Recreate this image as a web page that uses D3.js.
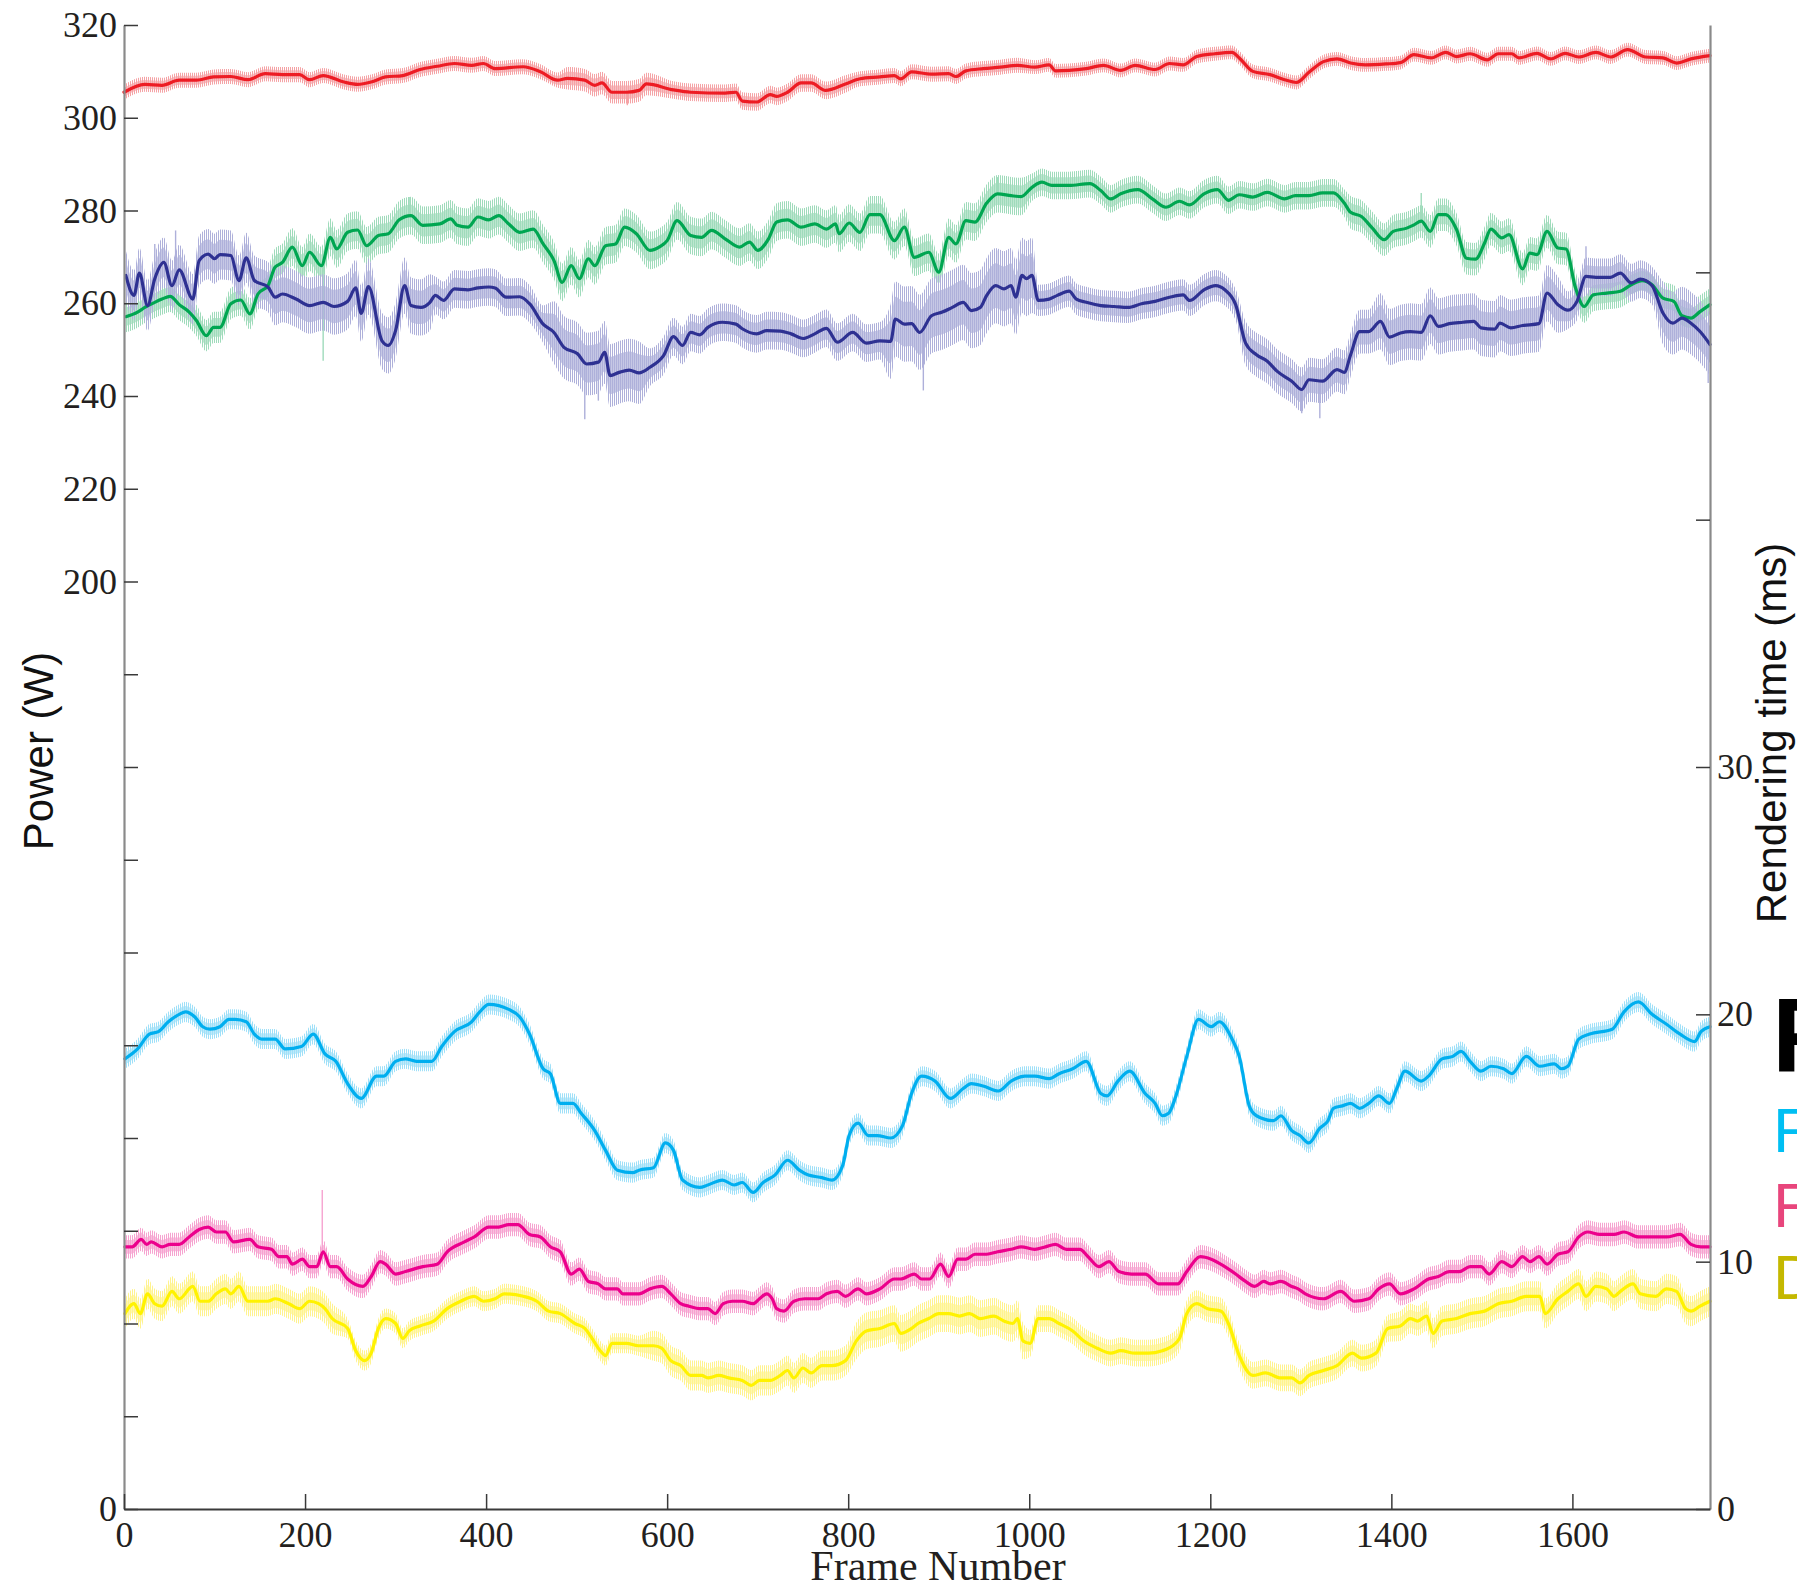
<!DOCTYPE html>
<html>
<head>
<meta charset="utf-8">
<script src="https://cdn.jsdelivr.net/npm/d3@7"></script>
<style>
  html, body { margin: 0; padding: 0; background: #fff; overflow: hidden; }
  svg { display: block; }
</style>
</head>
<body>
<svg id="chart" width="1797" height="1590"></svg>
<script>
// ---- Frame axis and tick labels ----
const frameTicks = [0, 200, 400, 600, 800, 1000, 1200, 1400, 1600];
const powerTicks = d3.range(0, 321, 20);          // left axis, W
const powerLabelled = [0, 200, 220, 240, 260, 280, 300, 320];
const timeTicks = [0, 10, 20, 30, 40, 50];        // right axis, ms
const timeLabelled = [0, 10, 20, 30];

// ---- Smoothed series: [frame, value] ----
// Power (W)
const redPower = [[0,305.5],[23,307.2],[42,307.0],[61,308.1],[80,308.1],[99,308.8],[118,308.9],[137,308.2],[156,309.5],[175,309.3],[194,309.3],[205,308.2],[220,309.1],[243,307.7],[258,307.2],[273,307.7],[289,308.8],[308,309.1],[327,310.4],[346,311.1],[365,311.7],[384,311.3],[397,311.7],[410,310.6],[441,311.0],[460,309.9],[479,308.1],[490,308.5],[509,308.1],[520,307.0],[528,307.5],[539,305.5],[555,305.5],[569,305.9],[577,307.3],[607,306.0],[626,305.5],[664,305.3],[676,305.5],[683,303.6],[699,303.4],[714,305.0],[721,304.6],[733,305.5],[748,307.5],[759,307.5],[775,305.9],[797,307.3],[813,308.4],[835,308.8],[851,309.1],[858,308.4],[870,309.9],[892,309.4],[911,309.5],[919,308.9],[930,310.1],[949,310.6],[968,310.9],[987,311.3],[1006,310.9],[1022,311.4],[1029,310.1],[1044,310.2],[1063,310.6],[1082,311.3],[1101,310.2],[1117,311.3],[1139,310.4],[1155,311.7],[1170,311.4],[1185,313.2],[1205,313.8],[1224,314.1],[1232,312.9],[1247,310.0],[1266,309.3],[1282,308.2],[1295,307.6],[1309,309.8],[1325,312.1],[1340,312.7],[1355,311.8],[1371,311.4],[1394,311.6],[1410,311.9],[1425,313.6],[1444,312.9],[1460,314.1],[1472,313.2],[1487,313.8],[1506,312.5],[1518,313.8],[1533,313.8],[1541,312.9],[1561,313.9],[1576,312.7],[1592,313.9],[1607,313.1],[1626,314.1],[1642,313.1],[1661,314.7],[1681,313.1],[1700,312.9],[1715,311.8],[1731,312.7],[1752,313.4]];

const greenPower = [[2,257.1],[15,258.1],[23,259.1],[34,260.2],[42,260.9],[51,261.5],[61,259.7],[72,258.1],[80,256.3],[91,253.0],[99,254.8],[106,254.8],[118,259.9],[129,260.7],[139,257.7],[148,262.0],[159,263.8],[167,267.8],[175,268.8],[186,272.1],[197,268.1],[205,271.0],[218,268.1],[228,274.2],[235,271.7],[247,275.3],[258,275.8],[268,272.4],[281,274.6],[292,275.0],[304,278.0],[317,278.9],[330,276.8],[349,277.1],[361,278.2],[368,276.8],[380,276.4],[391,278.6],[403,278.0],[414,278.9],[425,277.1],[437,275.3],[452,276.0],[463,272.8],[475,269.2],[484,264.5],[494,268.1],[503,265.3],[513,269.6],[520,268.1],[532,272.4],[543,272.8],[553,276.4],[566,275.0],[581,271.4],[592,272.2],[600,273.5],[611,277.8],[626,274.6],[638,274.2],[649,275.7],[664,273.9],[680,272.1],[691,273.2],[700,271.4],[712,273.9],[721,277.5],[733,278.0],[748,276.4],[763,277.1],[776,276.0],[786,277.1],[790,275.0],[801,277.3],[813,275.3],[824,279.1],[835,279.1],[851,273.5],[862,276.4],[873,269.9],[889,271.0],[900,266.7],[911,274.2],[919,272.8],[930,277.8],[940,277.5],[953,281.6],[965,283.6],[980,283.2],[991,283.0],[1003,285.0],[1014,286.1],[1025,285.4],[1044,285.4],[1067,285.8],[1079,284.3],[1090,282.5],[1101,283.6],[1120,284.5],[1136,282.5],[1151,280.7],[1166,282.0],[1177,281.2],[1193,283.6],[1208,284.5],[1220,282.2],[1232,283.4],[1247,282.9],[1263,283.9],[1282,282.5],[1294,283.2],[1309,283.2],[1324,283.8],[1336,283.8],[1348,281.6],[1355,279.6],[1367,278.7],[1379,276.2],[1392,273.7],[1402,275.5],[1417,276.2],[1425,276.9],[1433,277.7],[1443,275.5],[1452,279.1],[1460,279.1],[1472,275.9],[1483,269.7],[1493,269.5],[1503,273.0],[1510,276.0],[1522,274.1],[1530,274.8],[1545,267.4],[1553,270.8],[1561,270.5],[1572,275.5],[1584,271.9],[1593,271.7],[1603,263.6],[1613,259.3],[1623,261.8],[1638,262.2],[1653,262.6],[1665,264.0],[1677,264.9],[1688,264.0],[1700,261.1],[1712,260.4],[1721,257.3],[1731,256.8],[1741,258.2],[1752,259.7]];

const navyPower = [[2,266.0],[11,261.7],[17,266.5],[26,259.5],[34,265.3],[44,268.8],[53,263.8],[61,267.2],[76,260.9],[83,269.2],[93,270.6],[100,269.6],[106,270.5],[118,270.3],[127,264.9],[135,269.8],[144,264.9],[159,263.5],[167,261.3],[175,262.0],[190,260.9],[205,259.5],[220,260.2],[232,259.3],[247,260.4],[256,263.3],[262,257.8],[270,263.6],[285,251.9],[292,250.9],[300,254.1],[310,263.8],[317,259.5],[328,259.1],[338,260.2],[344,261.7],[353,260.6],[365,263.1],[380,262.9],[391,263.3],[403,263.5],[410,263.3],[422,261.3],[437,261.4],[448,259.9],[463,255.5],[475,253.7],[486,250.5],[501,249.1],[511,246.9],[524,247.3],[531,249.4],[537,244.4],[547,245.1],[558,245.6],[569,245.0],[581,246.2],[596,248.7],[607,252.8],[617,250.9],[626,253.7],[636,253.2],[645,254.8],[661,255.9],[676,255.5],[683,254.5],[699,253.4],[710,254.1],[725,254.0],[737,253.4],[750,252.4],[763,253.4],[776,254.6],[788,251.6],[805,253.7],[820,251.4],[835,251.9],[847,251.8],[852,256.6],[862,255.5],[870,255.6],[879,253.7],[892,257.3],[904,258.1],[915,259.1],[927,260.2],[936,258.4],[946,259.1],[953,261.7],[963,263.8],[972,263.1],[980,263.8],[985,261.3],[992,266.0],[997,265.3],[1003,266.0],[1010,260.6],[1022,260.9],[1031,261.7],[1044,262.6],[1052,260.9],[1063,260.2],[1079,259.5],[1094,259.3],[1109,259.1],[1124,259.9],[1139,260.4],[1155,261.3],[1170,261.8],[1177,260.6],[1193,262.9],[1206,263.8],[1216,262.9],[1228,259.7],[1239,251.4],[1251,248.9],[1263,247.5],[1274,245.3],[1290,243.2],[1301,241.4],[1309,243.5],[1324,243.2],[1340,245.7],[1348,245.1],[1355,248.9],[1365,253.9],[1375,253.9],[1388,256.1],[1398,252.7],[1410,253.6],[1421,253.9],[1433,253.7],[1443,257.3],[1452,255.0],[1464,255.6],[1479,255.9],[1491,256.1],[1499,254.7],[1514,254.4],[1520,255.7],[1532,254.7],[1545,255.2],[1563,255.6],[1572,262.2],[1584,259.7],[1595,258.5],[1605,260.4],[1615,265.8],[1626,265.6],[1642,265.6],[1653,266.5],[1665,264.4],[1675,265.2],[1688,263.8],[1700,257.9],[1711,255.7],[1721,256.8],[1731,255.7],[1741,253.9],[1752,251.1]];

// Rendering time (ms)
const cyanTime = [[1,18.2],[15,18.6],[28,19.2],[38,19.3],[49,19.7],[61,20.0],[68,20.1],[78,19.9],[87,19.5],[95,19.4],[106,19.5],[116,19.8],[123,19.8],[135,19.7],[144,19.2],[152,19.0],[167,19.0],[178,18.6],[196,18.7],[209,19.2],[222,18.4],[234,18.1],[247,17.2],[262,16.6],[279,17.5],[287,17.5],[300,18.1],[311,18.2],[323,18.1],[340,18.1],[351,18.7],[365,19.3],[384,19.7],[393,20.1],[403,20.4],[425,20.2],[437,19.9],[448,19.2],[463,17.8],[471,17.6],[482,16.4],[496,16.4],[505,16.0],[520,15.3],[532,14.5],[545,13.7],[562,13.6],[569,13.7],[585,13.8],[598,14.8],[607,14.5],[617,13.3],[636,13.0],[645,13.1],[661,13.3],[674,13.1],[683,13.2],[695,12.8],[706,13.2],[719,13.5],[733,14.1],[746,13.7],[756,13.5],[771,13.4],[782,13.3],[794,13.9],[801,15.1],[811,15.6],[822,15.1],[832,15.1],[847,15.0],[860,15.5],[870,16.8],[881,17.5],[896,17.3],[913,16.6],[927,17.0],[936,17.2],[949,17.1],[966,16.9],[980,17.3],[995,17.5],[1006,17.5],[1022,17.4],[1033,17.6],[1048,17.8],[1063,18.1],[1079,16.8],[1086,16.7],[1098,17.3],[1111,17.7],[1128,16.8],[1139,16.4],[1147,15.9],[1154,16.0],[1162,16.7],[1174,18.3],[1187,19.8],[1201,19.5],[1210,19.7],[1224,19.0],[1232,18.3],[1243,16.3],[1251,15.9],[1270,15.7],[1278,15.9],[1290,15.3],[1299,15.1],[1309,14.8],[1321,15.4],[1330,15.7],[1336,16.2],[1346,16.3],[1355,16.4],[1365,16.2],[1375,16.4],[1386,16.7],[1398,16.4],[1406,17.0],[1415,17.7],[1433,17.3],[1441,17.5],[1456,18.2],[1468,18.3],[1477,18.5],[1487,18.1],[1499,17.7],[1510,17.9],[1524,17.8],[1533,17.6],[1549,18.3],[1564,17.9],[1580,18.0],[1588,17.8],[1595,17.9],[1607,19.0],[1619,19.2],[1644,19.4],[1657,20.1],[1673,20.5],[1688,20.0],[1704,19.6],[1719,19.2],[1735,18.9],[1742,19.3],[1752,19.5]];

const pinkTime = [[1,10.6],[9,10.6],[19,10.9],[25,10.7],[30,10.8],[42,10.6],[51,10.7],[61,10.7],[72,11.0],[83,11.3],[93,11.4],[102,11.2],[112,11.2],[121,10.8],[139,10.9],[148,10.6],[163,10.5],[171,10.2],[180,10.2],[186,9.9],[197,10.1],[205,9.8],[213,9.8],[220,10.4],[228,9.8],[235,9.8],[247,9.3],[264,9.0],[273,9.4],[283,10.0],[289,9.9],[300,9.5],[311,9.6],[330,9.8],[346,9.9],[357,10.4],[376,10.8],[387,11.0],[403,11.4],[414,11.4],[425,11.5],[435,11.5],[448,11.1],[460,11.0],[471,10.6],[482,10.4],[494,9.5],[503,9.7],[513,9.2],[524,9.1],[532,8.9],[545,8.9],[551,8.7],[562,8.7],[569,8.7],[581,8.9],[594,9.0],[604,8.7],[615,8.3],[624,8.2],[636,8.1],[645,8.1],[653,7.9],[662,8.3],[672,8.4],[683,8.4],[695,8.3],[702,8.5],[710,8.7],[716,8.5],[721,8.1],[729,8.0],[740,8.4],[752,8.5],[767,8.5],[776,8.7],[788,8.8],[797,8.6],[811,8.9],[820,8.7],[835,8.9],[851,9.3],[858,9.3],[873,9.5],[881,9.3],[890,9.3],[902,9.9],[911,9.4],[921,10.1],[930,10.1],[940,10.3],[953,10.3],[965,10.4],[980,10.5],[991,10.6],[1006,10.5],[1018,10.6],[1029,10.7],[1041,10.5],[1056,10.5],[1065,10.2],[1077,9.8],[1088,10.0],[1099,9.6],[1113,9.5],[1128,9.5],[1143,9.1],[1154,9.1],[1164,9.1],[1174,9.6],[1189,10.2],[1201,10.1],[1216,9.8],[1228,9.5],[1239,9.2],[1249,9.0],[1259,9.2],[1266,9.1],[1278,9.2],[1290,9.0],[1297,8.9],[1305,8.7],[1325,8.5],[1344,8.8],[1359,8.4],[1375,8.5],[1386,8.9],[1398,9.1],[1410,8.7],[1425,8.9],[1441,9.3],[1452,9.4],[1464,9.6],[1475,9.6],[1487,9.8],[1499,9.8],[1508,9.5],[1522,10.0],[1533,9.8],[1545,10.2],[1553,10.0],[1563,10.2],[1572,9.9],[1584,10.3],[1595,10.4],[1607,11.0],[1617,11.2],[1630,11.1],[1646,11.1],[1657,11.2],[1673,11.0],[1688,11.0],[1704,11.0],[1719,11.1],[1731,10.7],[1742,10.6],[1752,10.6]];

const yellowTime = [[1,7.9],[11,8.3],[18,7.9],[26,8.7],[34,8.3],[42,8.2],[53,8.8],[61,8.5],[76,9.0],[84,8.4],[93,8.4],[102,8.7],[112,8.9],[118,8.7],[127,9.0],[137,8.4],[148,8.4],[159,8.4],[167,8.5],[182,8.3],[194,8.1],[205,8.4],[215,8.3],[222,8.1],[230,7.7],[247,7.3],[256,6.4],[266,6.0],[273,6.3],[281,7.3],[289,7.7],[300,7.5],[308,6.9],[315,7.2],[327,7.4],[342,7.6],[357,8.1],[372,8.4],[387,8.6],[397,8.4],[410,8.5],[420,8.7],[441,8.6],[456,8.4],[469,8.0],[482,7.9],[498,7.5],[509,7.3],[517,6.9],[526,6.4],[532,6.2],[539,6.7],[555,6.7],[568,6.6],[585,6.6],[594,6.5],[604,6.0],[615,5.8],[626,5.4],[638,5.4],[645,5.3],[657,5.4],[668,5.3],[683,5.2],[693,5.0],[702,5.2],[714,5.2],[725,5.4],[733,5.6],[740,5.3],[750,5.7],[759,5.5],[771,5.8],[782,5.8],[797,6.0],[809,6.8],[820,7.2],[835,7.3],[851,7.5],[858,7.1],[870,7.3],[877,7.5],[889,7.7],[900,7.9],[911,7.9],[923,7.8],[934,7.9],[946,7.7],[961,7.8],[972,7.6],[982,7.5],[987,7.7],[993,6.8],[1001,6.7],[1010,7.7],[1022,7.7],[1033,7.5],[1048,7.2],[1060,6.8],[1075,6.5],[1090,6.3],[1101,6.4],[1117,6.3],[1132,6.3],[1147,6.4],[1154,6.5],[1166,6.9],[1174,7.9],[1185,8.3],[1197,8.1],[1212,8.0],[1220,7.5],[1232,6.2],[1247,5.4],[1261,5.5],[1278,5.3],[1290,5.3],[1299,5.1],[1309,5.4],[1325,5.6],[1340,5.8],[1357,6.3],[1367,6.1],[1383,6.3],[1396,7.3],[1410,7.4],[1421,7.7],[1429,7.6],[1439,7.8],[1446,7.1],[1456,7.6],[1472,7.7],[1487,7.9],[1503,8.0],[1518,8.3],[1533,8.4],[1549,8.6],[1564,8.6],[1570,7.9],[1584,8.5],[1595,8.8],[1607,9.1],[1615,8.6],[1626,9.0],[1638,8.9],[1646,8.6],[1653,8.8],[1667,9.1],[1675,8.7],[1692,8.6],[1704,8.9],[1715,8.8],[1725,8.1],[1731,8.0],[1741,8.2],[1752,8.4]];

// ---- Per-frame jitter of the raw samples: [from frame, half-width] ----
const redNoise    = [[0,1.2],[480,1.8],[600,1.4],[800,1.2],[1000,1.1]];
const greenNoise  = [[0,2.5],[150,3.0],[1000,2.2],[1350,2.6]];
const navyNoise   = [[0,4.0],[160,4.5],[340,3.0],[470,5.0],[570,3.0],[840,6.0],[1010,2.5],[1230,3.5],[1380,4.5],[1590,3.0],[1690,5.0]];
const cyanNoise   = [[0,0.3]];
const pinkNoise   = [[0,0.35]];
const yellowNoise = [[0,0.45],[240,0.3],[580,0.45],[800,0.55],[1000,0.4],[1400,0.45]];

// ---- Isolated raw outliers: [frame, raw value] ----
const redSpikes    = [[556,302.7]];
const greenSpikes  = [[220,247.6],[315,282.9],[965,287.2],[1433,283.8]];
const navySpikes   = [[34,272.8],[57,275.7],[509,235.0],[524,239.0],[883,241.2],[964,271.4],[1003,270.0],[1301,236.3],[1321,235.2],[1615,272.3],[1750,242.8]];
const pinkSpikes   = [[219,12.9]];

// ---- Legend labels ----
const legendTitle = "F";
const legendItems = ["F", "F", "D"];

// ------------------------------------------------------------------
const svg = d3.select("#chart");
const plot = { left: 124, right: 1710, top: 25, bottom: 1509 };

const x  = d3.scaleLinear().domain([0, 1752]).range([plot.left, plot.right]);
const yP = d3.scaleLinear().domain([0, 320]).range([plot.bottom, plot.top]);
const yT = d3.scaleLinear().domain([0, 60]).range([plot.bottom, plot.top]);

const series = [
  { id: "red",    data: redPower,   noise: redNoise,    spikes: redSpikes,   y: yP, line: "#ed1c24", raw: "#f5a3a6" },
  { id: "green",  data: greenPower, noise: greenNoise,  spikes: greenSpikes, y: yP, line: "#00a651", raw: "#9fdbbb" },
  { id: "navy",   data: navyPower,  noise: navyNoise,   spikes: navySpikes,  y: yP, line: "#2e3192", raw: "#aeb0da" },
  { id: "cyan",   data: cyanTime,   noise: cyanNoise,   spikes: [],          y: yT, line: "#00aeef", raw: "#9fe0f8" },
  { id: "pink",   data: pinkTime,   noise: pinkNoise,   spikes: pinkSpikes,  y: yT, line: "#ec008c", raw: "#f6a3d0" },
  { id: "yellow", data: yellowTime, noise: yellowNoise, spikes: [],          y: yT, line: "#fff200", raw: "#fff38f" }
];

const noiseAt = (table, f) => {
  let h = table[0][1];
  for (const [start, w] of table) if (f >= start) h = w;
  return h;
};
const nearestValue = (data, f) => data.reduce((a, b) => Math.abs(b[0] - f) < Math.abs(a[0] - f) ? b : a)[1];

// Hatch fills give the raw-sample bands their streaky look
const defs = svg.append("defs");
series.forEach(s => {
  const p = defs.append("pattern")
    .attr("id", `hatch-${s.id}`)
    .attr("patternUnits", "userSpaceOnUse")
    .attr("width", 2).attr("height", 8);
  p.append("rect").attr("x", 0).attr("y", 0).attr("width", 1).attr("height", 8).attr("fill", s.raw);
});

const gRaw = svg.append("g").attr("class", "raw");
const gSmooth = svg.append("g").attr("class", "smooth");

series.forEach(s => {
  const band = k => d3.area()
    .curve(d3.curveMonotoneX)
    .x(d => x(d[0]))
    .y0(d => s.y(d[1] - k * noiseAt(s.noise, d[0])))
    .y1(d => s.y(d[1] + k * noiseAt(s.noise, d[0])));
  // outer streaky fringe
  gRaw.append("path")
    .attr("d", band(1.35)(s.data))
    .attr("fill", `url(#hatch-${s.id})`);
  // denser core
  gRaw.append("path")
    .attr("d", band(0.8)(s.data))
    .attr("fill", s.raw)
    .attr("fill-opacity", 0.7);
  gRaw.selectAll(null)
    .data(s.spikes)
    .join("line")
    .attr("x1", d => x(d[0])).attr("x2", d => x(d[0]))
    .attr("y1", d => s.y(nearestValue(s.data, d[0])))
    .attr("y2", d => s.y(d[1]))
    .attr("stroke", s.raw)
    .attr("stroke-width", 1.4);
});

series.forEach(s => {
  const line = d3.line().curve(d3.curveMonotoneX).x(d => x(d[0])).y(d => s.y(d[1]));
  gSmooth.append("path")
    .attr("d", line(s.data))
    .attr("fill", "none")
    .attr("stroke", s.line)
    .attr("stroke-width", 3.2)
    .attr("stroke-linejoin", "round")
    .attr("stroke-linecap", "round");
});

// ---- Axes ----
const serif = "'Liberation Serif', 'Times New Roman', serif";
const sans = "'Liberation Sans', Arial, Helvetica, sans-serif";
const fmt = d3.format("d");

function styleAxis(g, domainColor) {
  g.select(".domain").attr("stroke", domainColor).attr("stroke-width", 2.2);
  g.selectAll(".tick line").attr("stroke", "#3a3a3a").attr("stroke-width", 1.5);
  g.selectAll(".tick text")
    .attr("font-family", serif)
    .attr("font-size", 36)
    .attr("fill", "#231f20");
}

const leftAxis = svg.append("g")
  .attr("transform", `translate(${plot.left},0)`)
  .call(d3.axisLeft(yP)
    .tickValues(powerTicks)
    .tickSize(-14).tickSizeOuter(0).tickPadding(7)
    .tickFormat(d => powerLabelled.includes(d) ? fmt(d) : ""));
styleAxis(leftAxis, "#8a8a8a");

const rightAxis = svg.append("g")
  .attr("transform", `translate(${plot.right},0)`)
  .call(d3.axisRight(yT)
    .tickValues(timeTicks)
    .tickSize(-14).tickSizeOuter(0).tickPadding(7)
    .tickFormat(d => timeLabelled.includes(d) ? fmt(d) : ""));
styleAxis(rightAxis, "#8a8a8a");

const bottomAxis = svg.append("g")
  .attr("transform", `translate(0,${plot.bottom})`)
  .call(d3.axisBottom(x)
    .tickValues(frameTicks)
    .tickSize(-15).tickSizeOuter(0).tickPadding(12)
    .tickFormat(fmt));
styleAxis(bottomAxis, "#3a3a3a");
bottomAxis.select(".domain").attr("stroke-width", 2);

// ---- Axis titles ----
svg.append("text")
  .attr("x", 938).attr("y", 1580)
  .attr("text-anchor", "middle")
  .attr("font-family", serif).attr("font-size", 42).attr("fill", "#231f20")
  .text("Frame Number");

svg.append("text")
  .attr("transform", "translate(53,751) rotate(-90)")
  .attr("text-anchor", "middle")
  .attr("font-family", sans).attr("font-size", 42).attr("fill", "#111")
  .text("Power (W)");

svg.append("text")
  .attr("transform", "translate(1786,733) rotate(-90)")
  .attr("text-anchor", "middle")
  .attr("font-family", sans).attr("font-size", 42).attr("fill", "#111")
  .text("Rendering time (ms)");

// ---- Legend (runs off the right edge) ----
svg.append("text")
  .attr("x", 1772).attr("y", 1072)
  .attr("font-family", sans).attr("font-size", 106).attr("font-weight", 700)
  .attr("fill", "#000")
  .text(legendTitle);

const legendColors = ["#00bff3", "#e8457c", "#c4b800"];
const legendBaselines = [1152, 1227, 1299];
svg.append("g").selectAll("text")
  .data(legendItems)
  .join("text")
  .attr("x", 1773)
  .attr("y", (d, i) => legendBaselines[i])
  .attr("font-family", sans).attr("font-size", 63)
  .attr("fill", (d, i) => legendColors[i])
  .text(d => d);
</script>
</body>
</html>
